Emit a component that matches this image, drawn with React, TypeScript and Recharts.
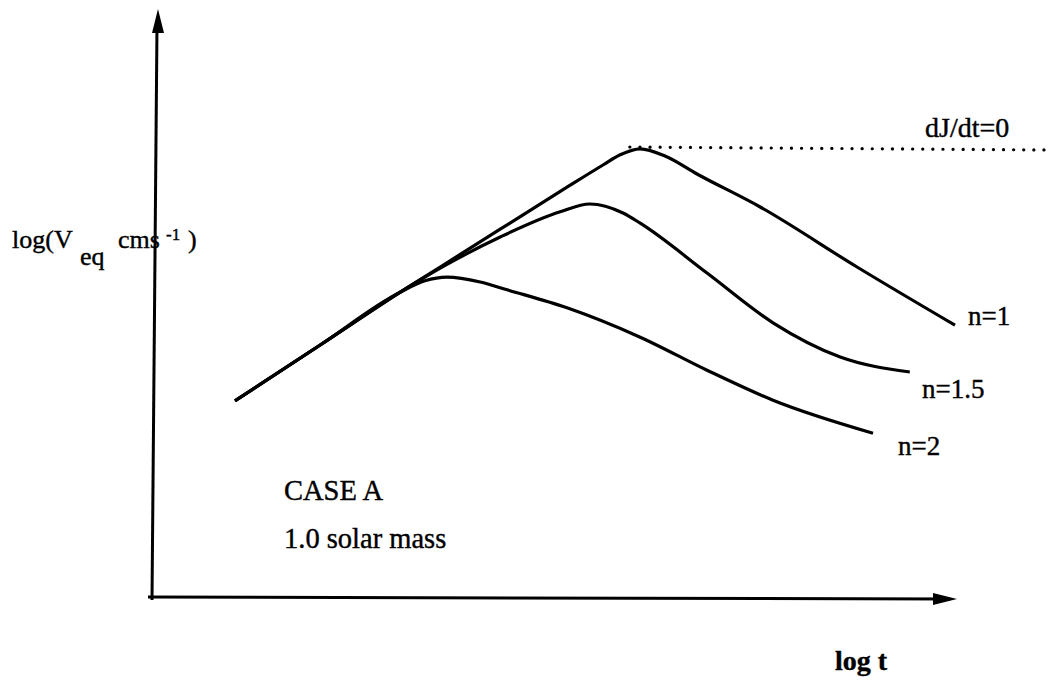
import React from 'react'
import { ComposedChart, Line, Scatter, XAxis, YAxis, ReferenceLine } from 'recharts'

// log t (x) vs log(Veq) (y), arbitrary units
const n1 = [
  { x: 10.25, y: 32.7 }, { x: 20.9, y: 42.0 }, { x: 31.5, y: 51.3 }, { x: 35.9, y: 55.0 },
  { x: 43.4, y: 61.3 }, { x: 51.75, y: 68.3 }, { x: 56.25, y: 72.0 }, { x: 58.4, y: 73.7 },
  { x: 60.9, y: 74.7 }, { x: 64.0, y: 73.5 }, { x: 68, y: 70.5 }, { x: 75.9, y: 65.0 },
  { x: 88, y: 55.0 }, { x: 100.25, y: 45.3 },
]
const n15 = [
  { x: 10.25, y: 32.7 }, { x: 20.9, y: 42.0 }, { x: 31.5, y: 51.3 }, { x: 35.9, y: 54.8 },
  { x: 43.4, y: 60.0 }, { x: 50.9, y: 64.2 }, { x: 54.6, y: 65.5 }, { x: 58.75, y: 64.0 },
  { x: 60.9, y: 62.3 }, { x: 69.25, y: 54.0 }, { x: 77.5, y: 45.7 }, { x: 85.9, y: 40.0 },
  { x: 94.6, y: 37.5 },
]
const n2 = [
  { x: 10.25, y: 32.7 }, { x: 20.9, y: 42.0 }, { x: 30.9, y: 50.8 }, { x: 34.0, y: 52.7 },
  { x: 36.75, y: 53.3 }, { x: 40.9, y: 52.5 }, { x: 44.25, y: 51.2 }, { x: 51.75, y: 48.2 },
  { x: 60.9, y: 43.3 }, { x: 69.25, y: 37.8 }, { x: 77.5, y: 32.8 }, { x: 90, y: 27.3 },
]
const zeroTorque = [{ x: 59.6, y: 75.0 }, { x: 112, y: 74.5 }]

const xAxisSeg = [{ x: -0.625, y: 0 }, { x: 99.6, y: -0.33 }]
const yAxisSeg = [{ x: -0.125, y: -0.5 }, { x: 0.5, y: 95.3 }]
const yArrowTip = [{ x: 0.625, y: 98 }]
const xArrowTip = [{ x: 100.5, y: -0.33 }]

const FONT = '"Liberation Serif", "Times New Roman", serif'
const ink = { fontFamily: FONT, fill: '#000', stroke: '#000', strokeWidth: 0.4 }

const UpArrow = (p: any) => (
  <polygon points={`${p.cx},${p.cy} ${p.cx - 6},${p.cy + 24} ${p.cx + 6},${p.cy + 24}`} fill="#000" />
)
const RightArrow = (p: any) => (
  <polygon points={`${p.cx},${p.cy} ${p.cx - 24},${p.cy - 6} ${p.cx - 24},${p.cy + 6}`} fill="#000" />
)

export default function App() {
  return (
    <div style={{ position: 'absolute', left: 0, top: 0, background: '#fff' }}>
      <ComposedChart width={1049} height={684} margin={{ top: 0, right: 0, bottom: 75, left: 145 }}>
        <XAxis type="number" dataKey="x" domain={[-1, 112]} hide />
        <YAxis type="number" dataKey="y" domain={[-2, 99.5]} hide />
        <ReferenceLine segment={xAxisSeg} stroke="#000" strokeWidth={3} ifOverflow="visible" />
        <ReferenceLine segment={yAxisSeg} stroke="#000" strokeWidth={3} ifOverflow="visible" />
        <Scatter data={yArrowTip} dataKey="y" shape={UpArrow} isAnimationActive={false} />
        <Scatter data={xArrowTip} dataKey="y" shape={RightArrow} isAnimationActive={false} />
        <Line data={zeroTorque} dataKey="y" type="linear" stroke="#000" strokeWidth={3.2}
          strokeDasharray="0.1 10" strokeLinecap="round" dot={false} isAnimationActive={false} />
        <Line data={n2} dataKey="y" type="monotone" stroke="#000" strokeWidth={3.2} dot={false} isAnimationActive={false} />
        <Line data={n15} dataKey="y" type="monotone" stroke="#000" strokeWidth={3.2} dot={false} isAnimationActive={false} />
        <Line data={n1} dataKey="y" type="monotone" stroke="#000" strokeWidth={3.2} dot={false} isAnimationActive={false} />

        <text x={12} y={248} fontSize={26} {...ink}>
          log(V
          <tspan x={80} y={265}>eq</tspan>
          <tspan x={118} y={248}>cms</tspan>
          <tspan x={166} y={240} fontSize={17}>-1</tspan>
          <tspan x={188} y={248}>)</tspan>
        </text>
        <text x={925} y={137} fontSize={28} {...ink}>dJ/dt=0</text>
        <text x={968} y={325} fontSize={27} {...ink}>n=1</text>
        <text x={922} y={398} fontSize={27} {...ink}>n=1.5</text>
        <text x={898} y={455} fontSize={27} {...ink}>n=2</text>
        <text x={284} y={500} fontSize={28.5} {...ink}>CASE A</text>
        <text x={284} y={548} fontSize={28.5} {...ink}>1.0 solar mass</text>
        <text x={835} y={670} fontSize={28} fontWeight="bold" {...ink}>log t</text>
      </ComposedChart>
    </div>
  )
}
